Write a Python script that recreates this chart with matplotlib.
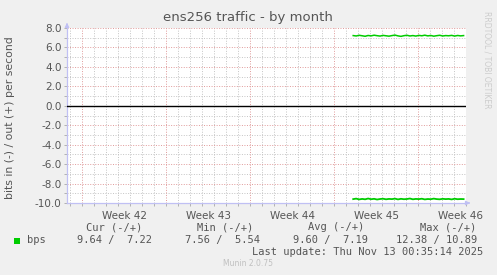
import matplotlib
matplotlib.use("Agg")
import matplotlib.pyplot as plt
import numpy as np

# ---- data (x in days from start of Week 42) ----
week_labels = ["Week 42", "Week 43", "Week 44", "Week 45", "Week 46"]
week_starts = [0, 7, 14, 21, 28]
x_start = 22.6
x_end = 31.8
out_vals = [7.22, 7.18, 7.25, 7.20, 7.15, 7.23, 7.19, 7.26, 7.21, 7.17,
            7.24, 7.20, 7.16, 7.22, 7.27, 7.19, 7.14, 7.21, 7.25, 7.18,
            7.22, 7.17, 7.24, 7.20, 7.26, 7.19, 7.23, 7.16, 7.21, 7.25,
            7.18, 7.22, 7.20, 7.24, 7.17, 7.23, 7.19, 7.22]
in_vals = [-9.60, -9.55, -9.63, -9.58, -9.62, -9.54, -9.61, -9.57, -9.64, -9.59,
           -9.56, -9.62, -9.58, -9.60, -9.55, -9.63, -9.57, -9.61, -9.59, -9.54,
           -9.62, -9.58, -9.60, -9.56, -9.63, -9.59, -9.61, -9.55, -9.60, -9.62,
           -9.57, -9.60, -9.58, -9.63, -9.56, -9.61, -9.59, -9.60]
y_ticks = [8.0, 6.0, 4.0, 2.0, 0.0, -2.0, -4.0, -6.0, -8.0, -10.0]
headers = ["Cur (-/+)", "Min (-/+)", "Avg (-/+)", "Max (-/+)"]
values = ["9.64 /  7.22", "7.56 /  5.54", "9.60 /  7.19", "12.38 / 10.89"]

W, H = 497, 275
fig = plt.figure(figsize=(W / 100, H / 100), dpi=100, facecolor="#F0F0F0")
L, R, T, B = 67, 466, 28, 203
ax = fig.add_axes([L / W, 1 - B / H, (R - L) / W, (B - T) / H], facecolor="white")
xmin, xmax = -1.25, 32.0
ax.set_xlim(xmin, xmax)
ax.set_ylim(-10, 8)

minor_c = "#c4c4c4"
major_c = "#e09a9a"
dots = (0, (1, 1.6))
# grids
for d in np.arange(-1, 33):
    if d % 7 == 0:
        continue
    ax.axvline(d, color=minor_c, lw=0.7, ls=dots, zorder=1)
for v in np.arange(-10, 9, 1):
    if v % 2 == 0:
        continue
    ax.axhline(v, color=minor_c, lw=0.7, ls=dots, zorder=1)
for ws in week_starts:
    ax.axvline(ws, color=major_c, lw=0.7, ls=dots, zorder=1)
for v in y_ticks:
    ax.axhline(v, color=major_c, lw=0.7, ls=dots, zorder=1)

ax.axhline(0, color="black", lw=1.0, zorder=3)

n = len(out_vals)
xs = np.linspace(x_start, x_end, n)
ax.plot(xs, out_vals, color="#00CC00", lw=1.1, zorder=4)
ax.plot(xs, in_vals, color="#00CC00", lw=1.3, zorder=4)

for s in ["top", "right"]:
    ax.spines[s].set_visible(False)
for s in ["left", "bottom"]:
    ax.spines[s].set_color("#c0c0f4")
    ax.spines[s].set_linewidth(0.9)

ax.set_yticks(y_ticks)
ax.set_yticklabels([f"{v:.1f}" for v in y_ticks], fontsize=7.5, color="#555555")
ax.set_yticks(np.arange(-10, 9, 1), minor=True)
ax.set_xticks([w + 3.5 for w in week_starts])
ax.set_xticklabels(week_labels, fontsize=7.5, color="#555555")
ax.set_xticks(np.arange(-1, 33), minor=True)
ax.tick_params(axis="both", which="both", length=2, color="#a8a8a8", width=0.6)
ax.tick_params(axis="x", which="major", length=0, pad=6)
ax.tick_params(axis="y", which="major", pad=2)

# arrows
ax.annotate("", xy=(L / W, 1 - 20 / H), xytext=(L / W, 1 - T / H), xycoords="figure fraction",
            arrowprops=dict(arrowstyle="-|>", color="#c0c0f4", lw=0.9, mutation_scale=6))
ax.annotate("", xy=(473 / W, 1 - B / H), xytext=(R / W, 1 - B / H), xycoords="figure fraction",
            arrowprops=dict(arrowstyle="-|>", color="#c0c0f4", lw=0.9, mutation_scale=6))

fig.text(248 / W, 1 - 18 / H, "ens256 traffic - by month", ha="center", va="center",
         fontsize=9.5, color="#555555")
fig.text(10 / W, 1 - 118 / H, "bits in (-) / out (+) per second", rotation=90,
         ha="center", va="center", fontsize=7.8, color="#555555")
fig.text(487 / W, 1 - 60 / H, "RRDTOOL / TOBI OETIKER", rotation=270, ha="center",
         va="center", fontsize=5.5, color="#cccccc")

mono = "DejaVu Sans Mono"
hx = [142, 253, 364, 476]
vx = [152, 260, 368, 477]
for h, x in zip(headers, hx):
    fig.text(x / W, 1 - 227 / H, h, ha="right", va="center", family=mono, fontsize=7.5, color="#555555")
for v, x in zip(values, vx):
    fig.text(x / W, 1 - 240 / H, v, ha="right", va="center", family=mono, fontsize=7.5, color="#555555")
fig.patches.append(plt.Rectangle((14 / W, 1 - 243.5 / H), 6 / W, 6 / H, transform=fig.transFigure,
                                 facecolor="#00CC00", edgecolor="none"))
fig.text(27 / W, 1 - 240 / H, "bps", ha="left", va="center", family=mono, fontsize=7.5, color="#555555")
fig.text(483 / W, 1 - 252 / H, "Last update: Thu Nov 13 00:35:14 2025", ha="right", va="center",
         family=mono, fontsize=7.5, color="#555555")
fig.text(248 / W, 1 - 264 / H, "Munin 2.0.75", ha="center", va="center", fontsize=5.5, color="#c0c0c0")

fig.savefig("out.png", dpi=100, facecolor=fig.get_facecolor())
